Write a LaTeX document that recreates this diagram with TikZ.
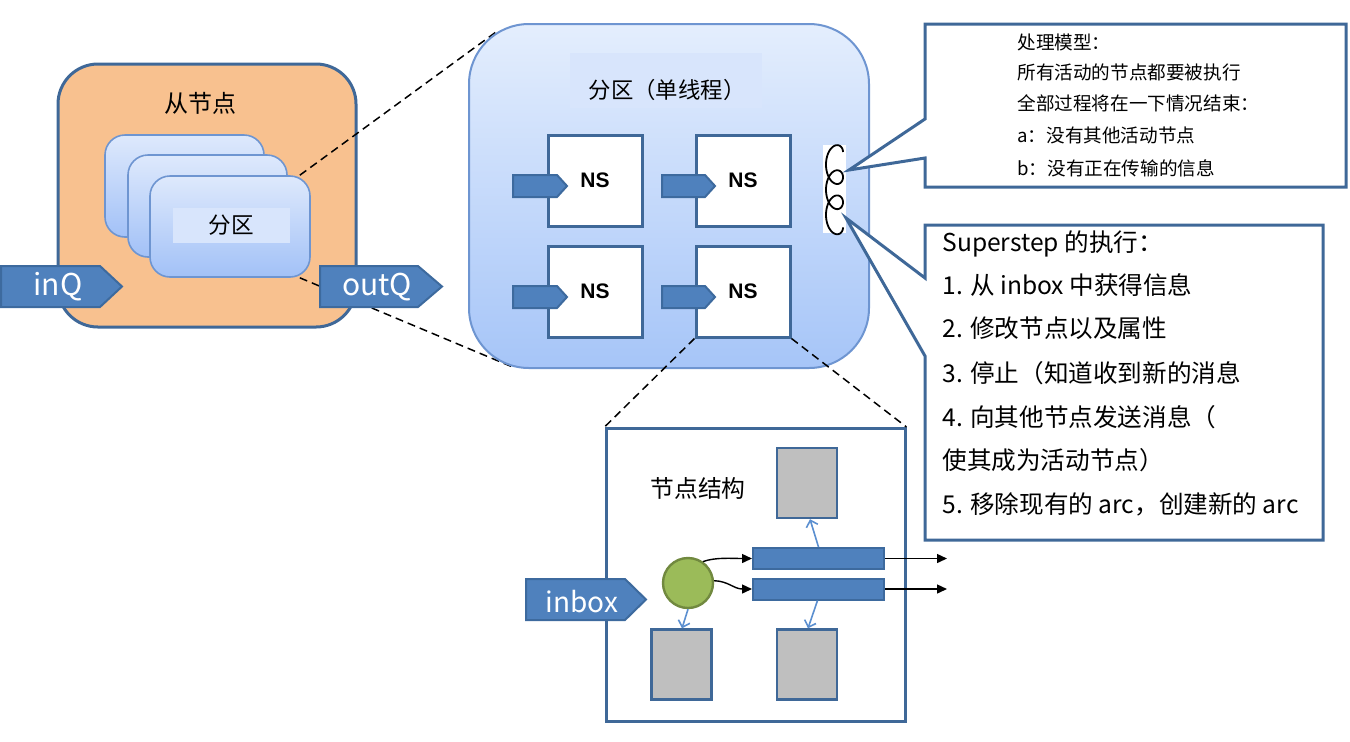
\documentclass[tikz,border=0pt]{standalone}
\usepackage{fontspec}
\setmainfont{Noto Sans CJK SC}
\newfontfamily\nsfont{Liberation Sans}
\usetikzlibrary{arrows.meta,calc}
\definecolor{orangefill}{HTML}{F8C18F}
\definecolor{dblue}{HTML}{3F6898}
\definecolor{cardtop}{HTML}{DEE9FC}
\definecolor{cardbot}{HTML}{A2C1F7}
\definecolor{cardline}{HTML}{6E95D1}
\definecolor{bigtop}{HTML}{E4EEFD}
\definecolor{bigbot}{HTML}{A6C5F8}
\definecolor{labfill}{HTML}{D8E5FC}
\definecolor{arrowblue}{HTML}{4F81BD}
\definecolor{arrowline}{HTML}{3D6A9E}
\definecolor{greyfill}{HTML}{BFBFBF}
\definecolor{greenfill}{HTML}{9BBB59}
\definecolor{greenline}{HTML}{71893F}
\definecolor{thinblue}{HTML}{5B8FD0}
\begin{document}
\begin{tikzpicture}[x=0.5pt,y=-0.5pt,
  slavebox/.style={draw=dblue,line width=1.5pt,fill=orangefill,rounded corners=20pt,minimum width=149pt,minimum height=131.5pt,inner sep=0pt},
  card/.style={draw=cardline,line width=0.8pt,top color=cardtop,bottom color=cardbot,rounded corners=10pt,minimum width=79.5pt,minimum height=51pt,inner sep=0pt},
  bigbox/.style={draw=cardline,line width=1pt,top color=bigtop,bottom color=bigbot,rounded corners=30pt,minimum width=200pt,minimum height=172pt,inner sep=0pt},
  nsbox/.style={draw=dblue,line width=1.5pt,fill=white,minimum width=47pt,minimum height=45.5pt,inner sep=0pt,font=\nsfont\bfseries\fontsize{10.5}{12}\selectfont},
  qarrow/.style={fill=arrowblue,draw=arrowline,line width=1pt},
  qtext/.style={text=white,font=\fontsize{15}{17}\selectfont,inner sep=0pt},
  dashline/.style={draw=black,line width=0.75pt,dash pattern=on 4pt off 2.5pt},
  callout/.style={fill=white,draw=dblue,line width=1.5pt,line join=miter},
  cone/.style={anchor=base west,inner sep=0pt,font=\fontsize{9.3}{11}\selectfont},
  ctwo/.style={anchor=base west,inner sep=0pt,font=\fontsize{12.3}{14}\selectfont},
  greybox/.style={draw=dblue,line width=1.2pt,fill=greyfill,minimum width=30pt,minimum height=35pt,inner sep=0pt},
  bar/.style={draw=arrowline,line width=1pt,fill=arrowblue,minimum width=65.5pt,minimum height=10.5pt,inner sep=0pt},
  blackarrow/.style={draw=black,line width=0.7pt,-{Triangle[length=5pt,width=4.5pt]}},
  bluearrow/.style={draw=thinblue,line width=0.8pt,-{Straight Barb[length=3pt,width=6pt]}}
]
\useasboundingbox (0,0) rectangle (1350,741);

% ---- slave node ----
\node[slavebox] (slave) at (207,195.5) {};
\node[font=\fontsize{12}{14}\selectfont,inner sep=0pt] (slavelabel) at (200,103) {从节点};
\node[card] (card1) at (184.5,186) {};
\node[card] (card2) at (207.5,206) {};
\node[card,minimum width=80pt,minimum height=50.5pt] (card3) at (230,226.5) {};
\node[fill=labfill,minimum width=58.5pt,minimum height=17.5pt,inner sep=0pt,font=\fontsize{11.3}{13}\selectfont] (p3) at (231.5,225.5) {分区};

% ---- dashed zoom lines to the partition ----
\coordinate (bigTL) at (496,32);
\coordinate (bigBL) at (515,368);
\draw[dashline] ($(card3.north east)+(-11,0)$) -- (bigTL);
\draw[dashline] ($(card3.south east)+(-11,0)$) -- (bigBL);

% ---- inQ / outQ ----
\draw[qarrow] (1,266) -- (100,266) -- (122,286.5) -- (100,307) -- (1,307) -- cycle;
\node[qtext] (inq) at (58,287) {inQ};
\draw[qarrow] (320,266) -- (418,266) -- (442,286.5) -- (418,307) -- (320,307) -- cycle;
\node[qtext] (outq) at (377,287) {outQ};

% ---- partition (single thread) ----
\node[bigbox] (part) at (669,196) {};
\node[fill=labfill,minimum width=96pt,minimum height=27.5pt,inner sep=0pt] (titlebg) at (666,80.5) {};
\node[font=\fontsize{11.2}{13}\selectfont,inner sep=0pt] (title) at (667,90) {分区（单线程）};
\node[nsbox] (ns1) at (595,180.5) {NS};
\node[nsbox] (ns2) at (743,180.5) {NS};
\node[nsbox] (ns3) at (595,291.5) {NS};
\node[nsbox] (ns4) at (743,291.5) {NS};
\draw[qarrow] (513,175) -- (557,175) -- (567,186) -- (557,197) -- (513,197) -- cycle;
\draw[qarrow] (662,175) -- (705,175) -- (715,186) -- (705,197) -- (662,197) -- cycle;
\draw[qarrow] (513,286) -- (557,286) -- (567,297) -- (557,308) -- (513,308) -- cycle;
\draw[qarrow] (662,286) -- (705,286) -- (715,297) -- (705,308) -- (662,308) -- cycle;

% coil
\node[fill=white,minimum width=11.5pt,minimum height=44pt,inner sep=0pt] (coilbg) at (834.5,189) {};
\draw[line width=0.9pt,smooth] plot[domain=0:18.85,samples=200,variable=\t] ({834.5+8.5*cos(\t r)},{152+4.0*\t-12.5*sin(\t r)});

% ---- callouts ----
\coordinate (tip1) at (849,170);
\coordinate (tip2) at (846,218);
\draw[callout] (925,24) -- (1346,24) -- (1346,187) -- (925,187) -- (925,158) -- (tip1) -- (925,119) -- cycle;
\node[cone] (c1a) at (1017,49) {处理模型：};
\node[cone] (c1b) at (1017,79) {所有活动的节点都要被执行};
\node[cone] (c1c) at (1017,110) {全部过程将在一下情况结束：};
\node[cone] (c1d) at (1017,142) {a：没有其他活动节点};
\node[cone] (c1e) at (1017,175) {b：没有正在传输的信息};

\draw[callout] (925,225) -- (1323,225) -- (1323,540) -- (925,540) -- (925,356) -- (tip2) -- (925,278) -- cycle;
\node[ctwo] (c2a) at (942,251) {Superstep 的执行：};
\node[ctwo] (c2b) at (942,294) {1. 从 inbox 中获得信息};
\node[ctwo] (c2c) at (942,337) {2. 修改节点以及属性};
\node[ctwo] (c2d) at (942,382) {3. 停止（知道收到新的消息};
\node[ctwo] (c2e) at (942,426) {4. 向其他节点发送消息（};
\node[ctwo] (c2f) at (942,469) {使其成为活动节点）};
\node[ctwo] (c2g) at (942,513) {5. 移除现有的 arc，创建新的 arc};

% ---- node structure ----
\node[draw=dblue,line width=1.5pt,fill=white,minimum width=149.5pt,minimum height=146.5pt,inner sep=0pt] (struct) at (755.5,575) {};
\draw[dashline] (ns4.south west) -- (struct.north west);
\draw[dashline] (ns4.south east) -- (struct.north east);
\node[font=\fontsize{11.9}{14}\selectfont,inner sep=0pt] (structlabel) at (698,488) {节点结构};
\node[greybox] (g1) at (807,483) {};
\node[greybox] (g2) at (681.5,664.5) {};
\node[greybox] (g3) at (807,664.5) {};
\node[circle,fill=greenfill,draw=greenline,line width=1.2pt,minimum size=25pt,inner sep=0pt] (circ) at (688,583) {};
\node[bar] (bar1) at (818.5,558.5) {};
\node[bar] (bar2) at (818.5,589) {};
\coordinate (out1) at (947,558.5);
\coordinate (out2) at (947,589);
\draw[blackarrow] (circ.55) .. controls (716,557) and (732,558.5) .. (bar1.west);
\draw[blackarrow] (circ.5) .. controls (728,581) and (734,589) .. (bar2.west);
\draw[blackarrow] (bar1.east) -- (out1);
\draw[blackarrow] (bar2.east) -- (out2);
\draw[bluearrow] (bar1.north) -- ($(g1.south)+(3,0)$);
\draw[bluearrow] ($(bar2.south)+(-1,0)$) -- ($(g3.north)+(1,0)$);
\draw[bluearrow] (circ.south) -- ($(g2.north)+(0.5,0)$);
\draw[qarrow] (526,579) -- (625,579) -- (646,599.5) -- (625,620) -- (526,620) -- cycle;
\node[qtext,font=\fontsize{14}{16}\selectfont] (inbox) at (582,602) {inbox};
\end{tikzpicture}
\end{document}
